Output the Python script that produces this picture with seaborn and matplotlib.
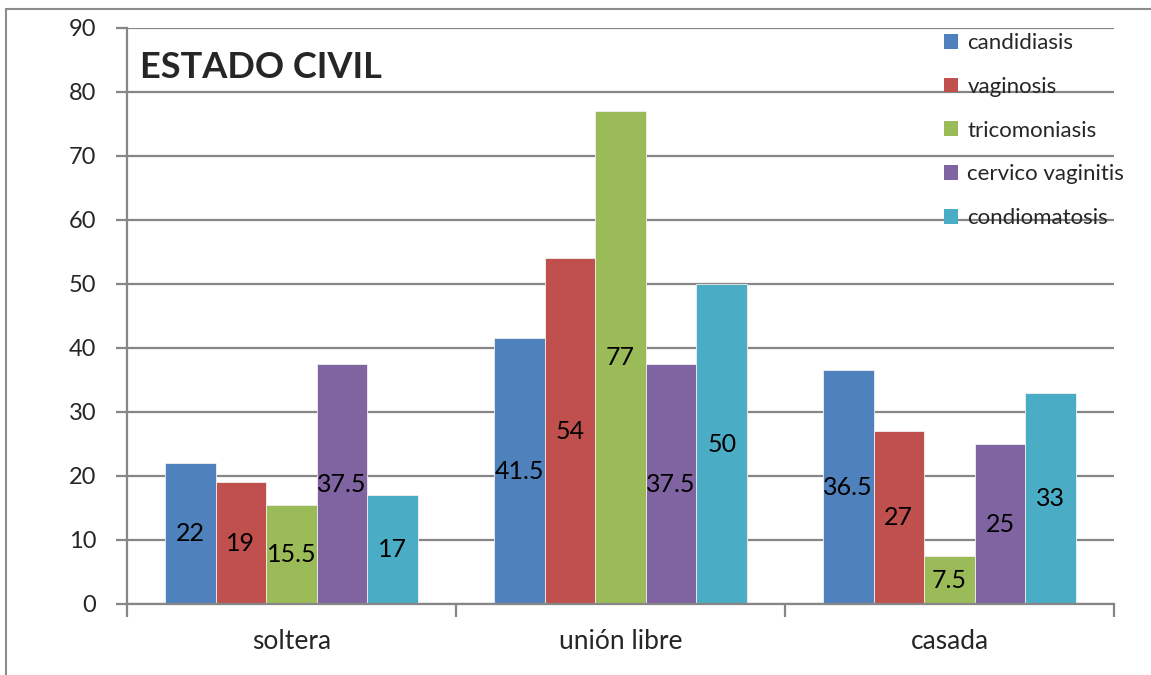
import matplotlib
matplotlib.use("Agg")
import matplotlib.pyplot as plt
import matplotlib.patches as mpatches
from matplotlib.ticker import FixedLocator
import seaborn as sns
import pandas as pd

categories = ["soltera", "unión libre", "casada"]
series = ["candidiasis", "vaginosis", "tricomoniasis", "cervico vaginitis", "condiomatosis"]
candidiasis = [22, 41.5, 36.5]
vaginosis = [19, 54, 27]
tricomoniasis = [15.5, 77, 7.5]
cervico_vaginitis = [37.5, 37.5, 25]
condiomatosis = [17, 50, 33]
yticks = [0, 10, 20, 30, 40, 50, 60, 70, 80, 90]
title = "ESTADO CIVIL"

colors = ["#4F81BD", "#C0504D", "#9BBB59", "#8064A2", "#4BACC6"]
values = [candidiasis, vaginosis, tricomoniasis, cervico_vaginitis, condiomatosis]

rows = []
for s, vals in zip(series, values):
    for c, v in zip(categories, vals):
        rows.append({"cat": c, "serie": s, "valor": v})
df = pd.DataFrame(rows)

sns.set_theme(style="white")
plt.rcParams["font.family"] = ["Lato", "DejaVu Sans"]

fig = plt.figure(figsize=(11.51, 6.75), dpi=100)
ax = fig.add_axes([127/1151, 1 - 604/675, (1114 - 127)/1151, (604 - 28)/675])

sns.barplot(data=df, x="cat", y="valor", hue="serie", order=categories,
            hue_order=series, palette=colors, width=0.77, ax=ax,
            edgecolor="#f0f0f0", linewidth=0.6, saturation=1, errorbar=None)

grid_c = "#868686"
ax.set_ylim(0, 90)
ax.set_xlim(-0.5, 2.5)
ax.yaxis.set_major_locator(FixedLocator(yticks))
ax.set_yticklabels([str(t) for t in yticks])
ax.grid(axis="y", color=grid_c, linewidth=1.6)
ax.set_axisbelow(True)
for sp in ["top", "right"]:
    ax.spines[sp].set_visible(False)
for sp in ["left", "bottom"]:
    ax.spines[sp].set_color(grid_c)
    ax.spines[sp].set_linewidth(1.6)
ax.set_xlabel("")
ax.set_ylabel("")
ax.tick_params(axis="y", which="major", direction="out", length=8, width=1.6,
               color=grid_c, labelsize=17, pad=14, left=True)
ax.tick_params(axis="x", which="major", length=0, labelsize=19, pad=18)
ax.xaxis.set_minor_locator(FixedLocator([-0.5, 0.5, 1.5, 2.5]))
ax.tick_params(axis="x", which="minor", direction="out", length=9, width=1.6,
               color=grid_c, bottom=True)

for cont, vals in zip(ax.containers, values):
    ax.bar_label(cont, labels=[f"{v:g}" for v in vals], label_type="center",
                 fontsize=18, color="black")

ax.text(140/1151, 1 - 67/675, title, transform=fig.transFigure, fontsize=26,
        fontweight="bold", va="center", ha="left")

handles = [mpatches.Patch(facecolor=c, edgecolor="none") for c in colors]
ax.legend(handles, series, loc="upper left", bbox_to_anchor=(944/1151, 1 - 33/675),
          bbox_transform=fig.transFigure, frameon=False, fontsize=16,
          handlelength=0.65, handleheight=0.65, handletextpad=0.4,
          labelspacing=1.07, borderpad=0, borderaxespad=0)

fig.patches.append(mpatches.Rectangle((6/1151, -0.05), 1.2, 1 - 9/675 + 0.05,
                                      transform=fig.transFigure, fill=False,
                                      edgecolor="#8c8c8c", linewidth=1.5))

fig.savefig("out.png", dpi=100)
